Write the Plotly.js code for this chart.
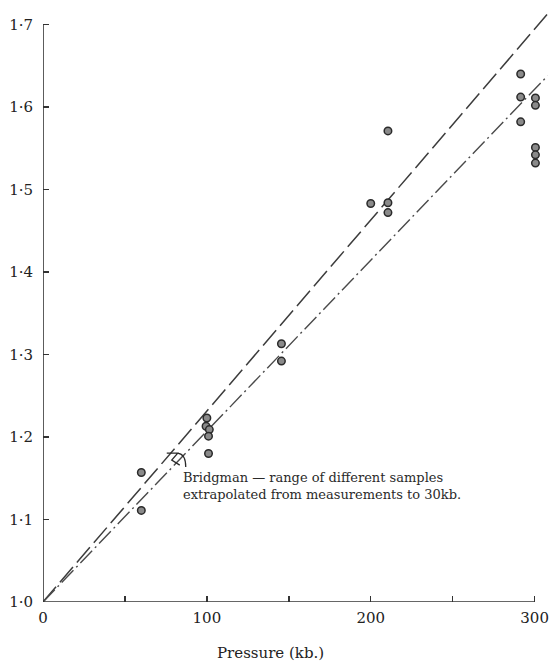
<!DOCTYPE html>
<html>
<head>
<meta charset="utf-8">
<script src="https://cdn.plot.ly/plotly-3.0.1.min.js"></script>
<style>
html,body{margin:0;padding:0;background:#fff;}
#chart{width:556px;height:664px;}
</style>
</head>
<body>
<div id="chart"></div>
<script>
// Measured points (pressure in kb, ratio)
const pressure = [60, 60, 100, 99.5, 101.5, 101, 101, 145.5, 145.5, 200, 210.5, 210.5, 210.5, 291.5, 291.5, 291.5, 300.5, 300.5, 300.5, 300.5, 300.5];
const ratio    = [1.157, 1.111, 1.223, 1.213, 1.209, 1.201, 1.180, 1.313, 1.292, 1.483, 1.484, 1.472, 1.571, 1.640, 1.612, 1.582, 1.611, 1.602, 1.551, 1.542, 1.532];

// Bridgman extrapolated range (two straight lines from origin)
const lineP  = [0, 308];
const upperR = [1.0, 1.713];
const lowerR = [1.0, 1.638];

// Tick labels
const xTickVals = [0, 50, 100, 150, 200, 250, 300];
const xTickText = ['0', '', '100', '', '200', '', '300'];
const yTickVals = [1.0, 1.1, 1.2, 1.3, 1.4, 1.5, 1.6, 1.7];
const yTickText = ['1·0', '1·1', '1·2', '1·3', '1·4', '1·5', '1·6', '1·7'];

const ink = '#333';
const serif = 'DejaVu Serif, Liberation Serif, serif';

const traces = [
  {x: lineP, y: upperR, mode: 'lines', line: {color: '#3c3c3c', width: 1.5, dash: '20px,6px'}, hoverinfo: 'skip'},
  {x: lineP, y: lowerR, mode: 'lines', line: {color: '#4a4a4a', width: 1.4, dash: '17px,4px,2px,4px'}, hoverinfo: 'skip'},
  {x: pressure, y: ratio, mode: 'markers', cliponaxis: false,
   marker: {symbol: 'circle', size: 7.5, color: '#8a8a8a', line: {color: '#2a2a2a', width: 1.5}}}
];

const layout = {
  width: 556, height: 664,
  margin: {l: 43, r: 5, t: 8, b: 62},
  paper_bgcolor: '#fff', plot_bgcolor: '#fff',
  showlegend: false,
  xaxis: {
    range: [0, 310], showgrid: false, zeroline: false, showline: false,
    tickmode: 'array', tickvals: xTickVals, ticktext: xTickText,
    ticks: 'inside', ticklen: 6, tickwidth: 1.4, tickcolor: ink,
    tickfont: {family: serif, size: 15, color: '#222'},
    ticklabelstandoff: 5
  },
  yaxis: {
    range: [1.0, 1.72], showgrid: false, zeroline: false, showline: false,
    tickmode: 'array', tickvals: yTickVals, ticktext: yTickText,
    ticks: 'inside', ticklen: 6, tickwidth: 1.4, tickcolor: ink,
    tickfont: {family: serif, size: 15, color: '#222'},
    ticklabelstandoff: 9
  },
  shapes: [
    {type: 'line', xref: 'x', yref: 'y', x0: 0, x1: 300, y0: 1.0, y1: 1.0, line: {color: ink, width: 1.6}},
    {type: 'line', xref: 'x', yref: 'y', x0: 0, x1: 0, y0: 1.0, y1: 1.7, line: {color: ink, width: 1.6}},
    {type: 'path', xref: 'x', yref: 'y', xsizemode: 'pixel', ysizemode: 'pixel', xanchor: 81, yanchor: 1.172,
     path: 'M -9 7 L 2 7 L -4 0 L 4 -5 M 2 7 Q 10 6 10 -7', line: {color: '#2a2a2a', width: 1.3}}
  ],
  annotations: [
    {text: 'Pressure (kb.)', xref: 'x', yref: 'paper', x: 139, y: 0, yshift: -40, showarrow: false,
     xanchor: 'center', yanchor: 'top', font: {family: serif, size: 15, color: '#222'}},
    {text: 'Bridgman — range of different samples<br>extrapolated from measurements to 30kb.',
     xref: 'x', yref: 'y', x: 84, y: 1.1405, showarrow: false, xanchor: 'left', yanchor: 'middle', align: 'left',
     font: {family: serif, size: 13, color: '#2a2a2a'}}
  ]
};

Plotly.newPlot('chart', traces, layout, {staticPlot: true, displayModeBar: false});
</script>
</body>
</html>
